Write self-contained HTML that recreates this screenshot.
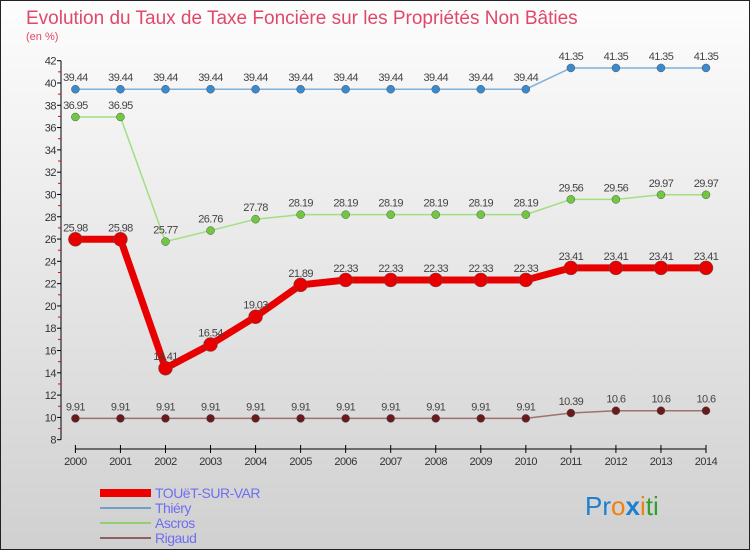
<!DOCTYPE html>
<html><head><meta charset="utf-8"><style>
body{margin:0}
#c{width:750px;height:550px;position:relative;font-family:"Liberation Sans",sans-serif}
</style></head><body>
<div id="c">
<svg id="s" width="750" height="550" xmlns="http://www.w3.org/2000/svg">
<defs><linearGradient id="bg" x1="0" y1="0" x2="0" y2="1"><stop offset="0" stop-color="#fdfdfd"/><stop offset="1" stop-color="#d0d0d0"/></linearGradient></defs>
<rect x="0.5" y="0.5" width="749" height="549" fill="url(#bg)" stroke="#222"/>
<text x="26" y="24" font-size="19" fill="#e0486a">Evolution du Taux de Taxe Foncière sur les Propriétés Non Bâties</text>
<text x="26" y="40" font-size="11" fill="#e0486a">(en %)</text>
<g id="axes"></g><g id="series"></g>
<g>
<line x1="100" y1="493" x2="151" y2="493" stroke="#e00" stroke-width="8"/>
<text x="155" y="498" font-size="14" fill="#6e6ef0" letter-spacing="-0.5">TOUëT-SUR-VAR</text>
<line x1="100" y1="508" x2="151" y2="508" stroke="#70a0c8" stroke-width="2"/>
<text x="155" y="513" font-size="14" fill="#6e6ef0" letter-spacing="-0.5">Thiéry</text>
<line x1="100" y1="523" x2="151" y2="523" stroke="#90d070" stroke-width="2"/>
<text x="155" y="528" font-size="14" fill="#6e6ef0" letter-spacing="-0.5">Ascros</text>
<line x1="100" y1="538" x2="151" y2="538" stroke="#906060" stroke-width="2"/>
<text x="155" y="543" font-size="14" fill="#6e6ef0" letter-spacing="-0.5">Rigaud</text>
</g>
<text x="585" y="515" font-size="26"><tspan fill="#1e7fd0">Pr</tspan><tspan fill="#f08010">o</tspan><tspan fill="#1e7fd0" font-weight="bold">x</tspan><tspan fill="#f08010">i</tspan><tspan fill="#30a030">ti</tspan></text>
</svg>
</div>
<script>
const years=["2000","2001","2002","2003","2004","2005","2006","2007","2008","2009","2010","2011","2012","2013","2014"];
const touet=[25.98,25.98,14.41,16.54,19.03,21.89,22.33,22.33,22.33,22.33,22.33,23.41,23.41,23.41,23.41];
const thiery=[39.44,39.44,39.44,39.44,39.44,39.44,39.44,39.44,39.44,39.44,39.44,41.35,41.35,41.35,41.35];
const ascros=[36.95,36.95,25.77,26.76,27.78,28.19,28.19,28.19,28.19,28.19,28.19,29.56,29.56,29.97,29.97];
const rigaud=[9.91,9.91,9.91,9.91,9.91,9.91,9.91,9.91,9.91,9.91,9.91,10.39,10.6,10.6,10.6];
const yTicks=[8,10,12,14,16,18,20,22,24,26,28,30,32,34,36,38,40,42];
const NS="http://www.w3.org/2000/svg";
const X=i=>75.4+i*(706-75.4)/14;
const Y=v=>439.7-(v-8)*(439.7-60.7)/34;
function mk(t,a,p){const e=document.createElementNS(NS,t);for(const k in a)e.setAttribute(k,a[k]);p.appendChild(e);return e;}
const ax=document.getElementById('axes');
let l=mk('line',{x1:61,y1:Y(42),x2:61,y2:Y(8),stroke:'#000'},ax);


yTicks.forEach(v=>{
 mk('line',{x1:57,y1:Y(v),x2:61,y2:Y(v),stroke:'#000'},ax);
 mk('line',{x1:58,y1:Y(v+1),x2:61,y2:Y(v+1),stroke:v<42?'#e00':'none'},ax);
 const t=mk('text',{x:56,y:Y(v)+4,'font-size':11,'text-anchor':'end',fill:'#333','letter-spacing':'-0.5'},ax);t.textContent=v;
 
 
});
l=mk('line',{x1:X(0),y1:449,x2:X(14),y2:449,stroke:'#000'},ax);


years.forEach((y,i)=>{
 mk('line',{x1:X(i),y1:445,x2:X(i),y2:453,stroke:'#000'},ax);
 const t=mk('text',{x:X(i),y:465,'font-size':11,'text-anchor':'middle',fill:'#333','letter-spacing':'-0.5'},ax);t.textContent=y;
 
 
});
const sg=document.getElementById('series');
function draw(d,name,col,w,r,fill){
 const g=mk('g',{},sg);
 
 
 const p=mk('polyline',{points:d.map((v,i)=>X(i)+','+Y(v)).join(' '),fill:'none',stroke:col,'stroke-width':w},g);
 
 
 d.forEach((v,i)=>{
  const c=mk('circle',{cx:X(i),cy:Y(v),r:r,fill:fill,stroke:'#555','stroke-width':0.5},g);
  
  
  const t=mk('text',{x:X(i),y:Y(v)-8,'font-size':11,'text-anchor':'middle',fill:'#444','letter-spacing':'-0.6'},g);t.textContent=v;
  
  
 });
}
draw(thiery,'thiery','#80b0d8',1.5,4,'#3a8ad0');
draw(ascros,'ascros','#a0e080',1.5,4,'#70c840');
draw(rigaud,'rigaud','#a07070',1.5,4,'#6a1a1a');
draw(touet,'touet','#e80000',7,7,'#e80000');
</script>
</body></html>
